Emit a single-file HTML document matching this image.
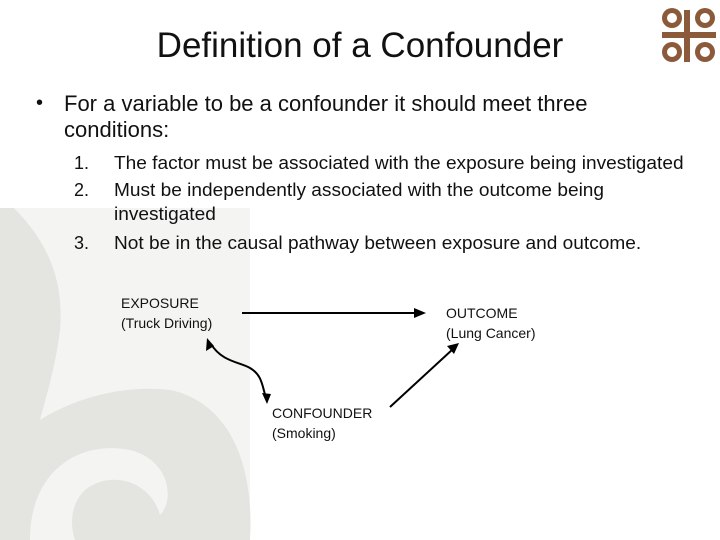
<!DOCTYPE html>
<html><head><style>
body{margin:0;width:720px;height:540px;overflow:hidden;background:#fff;font-family:"Liberation Sans",sans-serif;position:relative;color:#111}
.t{position:absolute;white-space:nowrap;transform-origin:0 0}
</style></head><body>
<svg width="720" height="540" style="position:absolute;left:0;top:0">
<rect x="0" y="190" width="250" height="350" fill="#f4f4f3"/>
<path d="M0 195 C40 230 65 270 60 330 C55 370 45 400 40 420 C80 395 130 385 170 390 C220 400 255 450 250 540 L0 540 Z" fill="#e4e4e1"/>
<path d="M30 540 C30 470 80 440 130 450 C170 460 175 500 160 515 C150 480 110 470 85 490 C70 505 70 525 75 540 Z" fill="#f4f4f3"/>
<rect x="0" y="90" width="250" height="118" fill="#fff"/>
<g fill="#8a5a3b">
<circle cx="672" cy="18" r="10"/><circle cx="705" cy="18" r="10"/><circle cx="672" cy="52" r="10"/><circle cx="705" cy="52" r="10"/>
<circle cx="672" cy="18" r="5" fill="#fff"/><circle cx="705" cy="18" r="5" fill="#fff"/><circle cx="672" cy="52" r="5" fill="#fff"/><circle cx="705" cy="52" r="5" fill="#fff"/>
<rect x="684" y="10" width="6" height="52"/><rect x="662" y="32" width="54" height="6"/>
</g>
<g stroke="#000" stroke-width="2" fill="none">
<line x1="242" y1="313" x2="418" y2="313"/>
<line x1="390" y1="407" x2="453" y2="349"/>
<path d="M211 344 C222 362 240 362 250 368 C262 375 262 385 266 398"/>
</g>
<g fill="#000">
<polygon points="426,313 414,308 414,318"/>
<polygon points="459,343 447,346 454,354"/>
<polygon points="207,338 206,351 214,346"/>
<polygon points="267,404 262,393 271,394"/>
</g>
</svg>
<div class="t" style="left:0;width:720px;text-align:center;top:26px;font-size:35px;color:#111">Definition of a Confounder</div>
<div class="t" style="left:36px;top:92px;font-size:20px">•</div>
<div class="t" style="left:64px;top:91px;font-size:22px;line-height:26px">For a variable to be a confounder it should meet three<br>conditions:</div>
<div class="t" style="left:74px;top:153px;font-size:18px">1.</div>
<div class="t" style="left:74px;top:180px;font-size:18px">2.</div>
<div class="t" style="left:74px;top:233px;font-size:18px">3.</div>
<div class="t" style="left:114px;top:153px;font-size:18px;transform:scaleX(1.06)">The factor must be associated with the exposure being investigated</div>
<div class="t" style="left:114px;top:180px;font-size:18px;transform:scaleX(1.06)">Must be independently associated with the outcome being</div>
<div class="t" style="left:114px;top:204px;font-size:18px;transform:scaleX(1.06)">investigated</div>
<div class="t" style="left:114px;top:233px;font-size:18px;transform:scaleX(1.06)">Not be in the causal pathway between exposure and outcome.</div>
<div class="t" style="left:121px;top:293px;font-size:14px;line-height:20px">EXPOSURE<br>(Truck Driving)</div>
<div class="t" style="left:446px;top:303px;font-size:14px;line-height:20px">OUTCOME<br>(Lung Cancer)</div>
<div class="t" style="left:272px;top:403px;font-size:14px;line-height:20px">CONFOUNDER<br>(Smoking)</div>
</body></html>
